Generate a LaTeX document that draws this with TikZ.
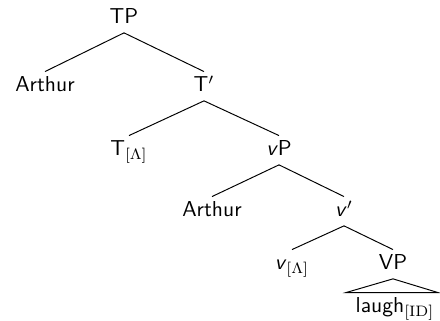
\documentclass[tikz,border=0pt]{standalone}
\usetikzlibrary{calc}
\begin{document}
\begin{tikzpicture}[x=0.4627pt,y=-0.4627pt,
  lbl/.style={font=\sffamily, anchor=base, inner xsep=1pt, inner ysep=0pt,
              text height=9.25pt, text depth=3.9pt},
  branch/.style={line width=0.45pt}]
  \useasboundingbox (0,0) rectangle (440,321);

  % tree nodes (placed by baseline)
  \node[lbl] (tp)      at (124,24)  {TP};
  \node[lbl] (arthurA) at (45,92)   {Arthur};
  \node[lbl] (tbar)    at (204,92)  {T$'$};
  \node[lbl] (tlam)    at (129,156) {T$_{[\Lambda]}$};
  \node[lbl] (vp)      at (279,156) {\textit{v}P};
  \node[lbl] (arthurB) at (212,217) {Arthur};
  \node[lbl] (vbar)    at (344,217) {\textit{v}$'$};
  \node[lbl] (vlam)    at (292,270) {\textit{v}$_{[\Lambda]}$};
  \node[lbl] (vpbig)   at (393,270) {VP};
  \node[lbl] (laugh)   at (395,313) {laugh$_{[\mathrm{ID}]}$};

  % branches
  \draw[branch] (tp.south) -- (arthurA.north);
  \draw[branch] (tp.south) -- (tbar.north);
  \draw[branch] (tbar.south) -- (tlam.north);
  \draw[branch] (tbar.south) -- (vp.north);
  \draw[branch] (vp.south) -- (arthurB.north);
  \draw[branch] (vp.south) -- (vbar.north);
  \draw[branch] (vbar.south) -- (vlam.north);
  \draw[branch] (vbar.south) -- (vpbig.north);

  % roof over the VP content
  \draw[branch] (vpbig.south) -- ($(laugh.north)+(-49,0)$)
                -- ($(laugh.north)+(43,0)$) -- cycle;
\end{tikzpicture}
\end{document}
